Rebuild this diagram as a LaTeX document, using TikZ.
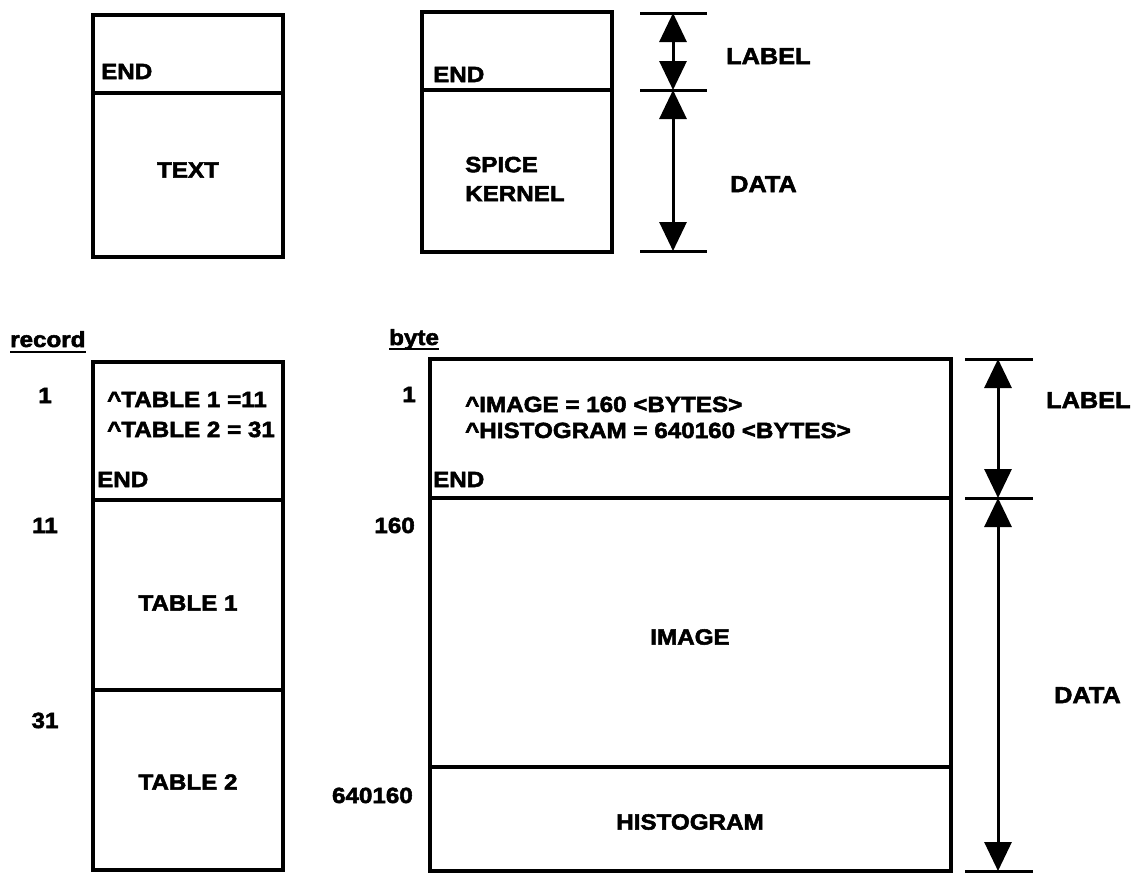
\documentclass[tikz,border=0pt]{standalone}
\usepackage{fontspec}
\setmainfont[FakeStretch=1.1, BoldFeatures={FakeBold=2.4}]{Liberation Sans}
\usetikzlibrary{arrows.meta}
\begin{document}
\begin{tikzpicture}[x=1pt,y=-1pt,
  cell/.style={draw, line width=3.2pt, inner sep=0pt, outer sep=0pt, anchor=north west},
  txt/.style={font=\bfseries\fontsize{22}{29}\selectfont, inner sep=0pt},
  big/.style={font=\bfseries\fontsize{23}{27}\selectfont, inner sep=0pt},
  tick/.style={line width=3pt},
  uline/.style={line width=2.4pt},
  dim/.style={line width=3pt, {Triangle[width=27pt,length=29pt]}-{Triangle[width=27pt,length=29pt]}}
]
\useasboundingbox (0,0) rectangle (1139,873);

% ---------- top left: TEXT ----------
\node[cell, minimum width=190, minimum height=78] (tlLabel) at (93,15) {};
\node[cell, minimum width=190, minimum height=164] (tlData) at (93,93) {};
\node[txt, anchor=base west] (tlEnd) at (101,79) {END};
\node[txt] (tlText) at (188,170) {TEXT};

% ---------- top middle: SPICE KERNEL ----------
\node[cell, minimum width=190, minimum height=78] (tmLabel) at (422,12) {};
\node[cell, minimum width=190, minimum height=162] (tmData) at (422,90) {};
\node[txt, anchor=base west] (tmEnd) at (433,82) {END};
\node[txt, anchor=west, align=left] (tmKern) at (465,179) {SPICE\\KERNEL};

% dimension arrows (top)
\coordinate (taTop) at (673,13);
\coordinate (taMid) at (673,90);
\coordinate (taBot) at (673,251);
\draw[tick] ([xshift=-33pt]taTop) -- ([xshift=34pt]taTop);
\draw[tick] ([xshift=-33pt]taMid) -- ([xshift=34pt]taMid);
\draw[tick] ([xshift=-33pt]taBot) -- ([xshift=34pt]taBot);
\draw[dim] (taTop) -- (taMid);
\draw[dim] (taMid) -- (taBot);
\node[big, anchor=base west] (taLabel) at (726,64) {LABEL};
\node[big, anchor=base west] (taData) at (730,192) {DATA};

% ---------- bottom left: record ----------
\node[txt, anchor=base west] (recHead) at (10,347) {record};
\draw[uline] ([yshift=-5pt]recHead.base west) -- ([yshift=-5pt]recHead.base east);
\node[cell, minimum width=190, minimum height=138] (blLabel) at (93,362) {};
\node[cell, minimum width=190, minimum height=190] (blT1) at (93,500) {};
\node[cell, minimum width=190, minimum height=180] (blT2) at (93,690) {};
\node[txt, anchor=base] (rec1) at (45,403) {1};
\node[txt, anchor=base] (rec11) at (45,533) {11};
\node[txt, anchor=base] (rec31) at (45,728) {31};
\node[txt, anchor=base west] (blPtr1) at (107,407) {\textasciicircum TABLE 1 =11};
\node[txt, anchor=base west] (blPtr2) at (107,437) {\textasciicircum TABLE 2 = 31};
\node[txt, anchor=base west] (blEnd) at (97,487) {END};
\node[txt] (blTab1) at (188,603) {TABLE 1};
\node[txt] (blTab2) at (188,782) {TABLE 2};

% ---------- bottom right: byte ----------
\node[txt, anchor=base west] (byteHead) at (389,345) {byte};
\draw[uline] ([yshift=-4pt]byteHead.base west) -- ([yshift=-4pt]byteHead.base east);
\node[cell, minimum width=521, minimum height=139] (brLabel) at (430,359) {};
\node[cell, minimum width=521, minimum height=269] (brImage) at (430,498) {};
\node[cell, minimum width=521, minimum height=104] (brHist) at (430,767) {};
\node[txt, anchor=base east] (byte1) at (416,402) {1};
\node[txt, anchor=base east] (byte160) at (415,533) {160};
\node[txt, anchor=base east] (byteHist) at (413,803) {640160};
\node[txt, anchor=base west] (brPtr1) at (465,412) {\textasciicircum IMAGE = 160 <BYTES>};
\node[txt, anchor=base west] (brPtr2) at (465,438) {\textasciicircum HISTOGRAM = 640160 <BYTES>};
\node[txt, anchor=base west] (brEnd) at (433,487) {END};
\node[txt] (brImg) at (690,637) {IMAGE};
\node[txt] (brHst) at (690,822) {HISTOGRAM};

% dimension arrows (bottom)
\coordinate (baTop) at (998,359);
\coordinate (baMid) at (998,498);
\coordinate (baBot) at (998,871);
\draw[tick] ([xshift=-33pt]baTop) -- ([xshift=35pt]baTop);
\draw[tick] ([xshift=-33pt]baMid) -- ([xshift=35pt]baMid);
\draw[tick] ([xshift=-33pt]baBot) -- ([xshift=35pt]baBot);
\draw[dim] (baTop) -- (baMid);
\draw[dim] (baMid) -- (baBot);
\node[big, anchor=base west] (baLabel) at (1046,408) {LABEL};
\node[big, anchor=base west] (baData) at (1054,703) {DATA};
\end{tikzpicture}
\end{document}
